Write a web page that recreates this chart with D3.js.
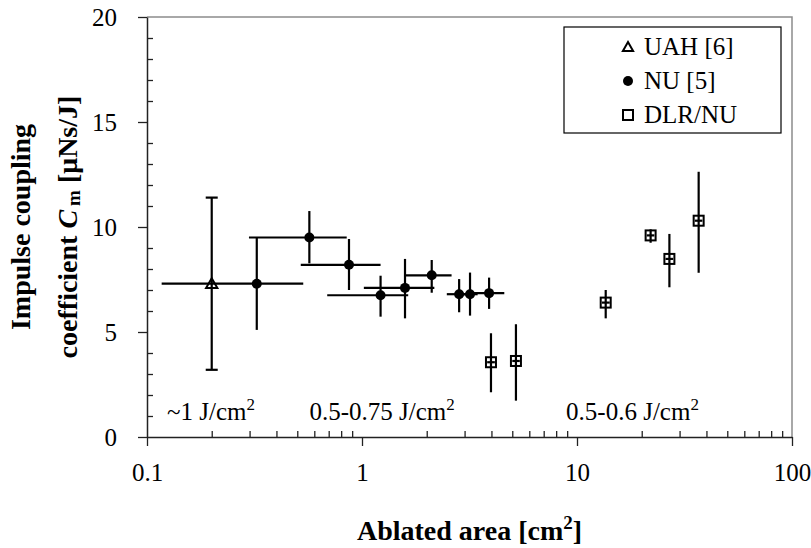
<!DOCTYPE html>
<html>
<head>
<meta charset="utf-8">
<script src="https://cdn.jsdelivr.net/npm/d3@7"></script>
<style>
  body { margin: 0; background: #fff; }
</style>
</head>
<body>
<div id="chart"></div>
<script>
// UAH [6]
let uahX = [0.2];
let uahY = [7.3];
let uahYLo = [3.2];
let uahYHi = [11.4];

// NU [5]
let nuX = [0.324, 0.569, 0.87, 1.22, 1.585, 2.11, 2.83, 3.18, 3.9];
let nuY = [7.3, 9.5, 8.2, 6.75, 7.1, 7.7, 6.8, 6.8, 6.85];
let nuYLo = [5.1, 8.27, 7.0, 5.73, 5.65, 6.87, 5.94, 5.78, 6.1];
let nuYHi = [9.5, 10.76, 9.43, 7.68, 8.48, 8.43, 7.52, 7.83, 7.59];
let nuXLo = [0.117, 0.298, 0.519, 0.689, 1.02, 1.597, 2.48, 2.9, 3.2];
let nuXHi = [0.533, 0.849, 1.22, 1.64, 2.17, 2.61, 3.18, 3.45, 4.59];

// DLR/NU
let dlrX = [3.98, 5.2, 13.6, 22.0, 26.9, 36.8];
let dlrY = [3.56, 3.62, 6.4, 9.6, 8.48, 10.3];
let dlrYLo = [2.13, 1.73, 5.65, 9.25, 7.13, 7.82];
let dlrYHi = [4.94, 5.37, 7.0, 9.89, 9.67, 12.63];
let dlrXLo = [3.82, 5.0, 13.05, 21.1, 25.8, 35.3];
let dlrXHi = [4.15, 5.42, 14.2, 22.9, 28.0, 38.3];

let xTicks = [0.1, 1, 10, 100];
let yTicks = [0, 5, 10, 15, 20];
let legendNames = ["UAH [6]", "NU [5]", "DLR/NU"];
let fluenceLabels = [
	{x: 0.124, text: "~1 J/cm"},
	{x: 0.57, text: "0.5-0.75 J/cm"},
	{x: 8.9, text: "0.5-0.6 J/cm"}
];

let serif = "'Liberation Serif', 'Times New Roman', serif";
let width = 811, height = 548;
let margin = {top: 17, right: 19, bottom: 111, left: 147};

let svg = d3.select("#chart").append("svg")
	.attr("width", width)
	.attr("height", height);

let x = d3.scaleLog().domain([0.1, 100]).range([margin.left, width - margin.right]);
let y = d3.scaleLinear().domain([0, 20]).range([height - margin.bottom, margin.top]);

// frame (top / right)
svg.append("path")
	.attr("d", "M" + x(0.1) + "," + y(20) + "H" + x(100) + "V" + y(0))
	.attr("fill", "none")
	.attr("stroke", "#8c8c8c")
	.attr("stroke-width", 1.5);

// minor ticks
let minorX = [];
[0.1, 1, 10].forEach(function(d) {
	for (let k = 2; k <= 9; k++) minorX.push(d * k);
});
let minorY = d3.range(1, 20).filter(function(d) { return d % 5 !== 0; });

svg.append("g")
	.attr("transform", "translate(0," + y(0) + ")")
	.call(d3.axisBottom(x).tickValues(minorX).tickSizeInner(-6).tickSizeOuter(0).tickFormat(""))
	.call(function(g) { g.select(".domain").remove(); })
	.selectAll("line").attr("stroke", "#222").attr("stroke-width", 1.3);

svg.append("g")
	.attr("transform", "translate(" + x(0.1) + ",0)")
	.call(d3.axisLeft(y).tickValues(minorY).tickSizeInner(-6).tickSizeOuter(0).tickFormat(""))
	.call(function(g) { g.select(".domain").remove(); })
	.selectAll("line").attr("stroke", "#222").attr("stroke-width", 1.3);

// major axes
let xAxis = svg.append("g")
	.attr("transform", "translate(0," + y(0) + ")")
	.call(d3.axisBottom(x).tickValues(xTicks).tickSize(9).tickSizeOuter(0).tickPadding(17).tickFormat(d3.format("~g")));

let yAxis = svg.append("g")
	.attr("transform", "translate(" + x(0.1) + ",0)")
	.call(d3.axisLeft(y).tickValues(yTicks).tickSize(9).tickSizeOuter(0).tickPadding(21));

[xAxis, yAxis].forEach(function(g) {
	g.attr("font-family", null).attr("font-size", null);
	g.select(".domain").attr("stroke", "#222").attr("stroke-width", 1.5);
	g.selectAll(".tick line").attr("stroke", "#222").attr("stroke-width", 1.3);
	g.selectAll(".tick text")
		.style("font-family", serif)
		.style("font-size", "25px")
		.attr("fill", "#000");
});

// fluence labels
fluenceLabels.forEach(function(d) {
	let t = svg.append("text")
		.attr("x", x(d.x))
		.attr("y", 420)
		.style("font-family", serif)
		.style("font-size", "25px")
		.text(d.text);
	t.append("tspan")
		.attr("dy", -10)
		.style("font-size", "17px")
		.text("2");
});

// error bars
let stroke = "#000";
function vBar(xv, lo, hi, cap) {
	svg.append("line")
		.attr("x1", x(xv)).attr("x2", x(xv))
		.attr("y1", y(lo)).attr("y2", y(hi))
		.attr("stroke", stroke).attr("stroke-width", 2.2);
	if (cap) {
		[lo, hi].forEach(function(v) {
			svg.append("line")
				.attr("x1", x(xv) - cap).attr("x2", x(xv) + cap)
				.attr("y1", y(v)).attr("y2", y(v))
				.attr("stroke", stroke).attr("stroke-width", 2.2);
		});
	}
}
function hBar(yv, lo, hi) {
	svg.append("line")
		.attr("x1", x(lo)).attr("x2", x(hi))
		.attr("y1", y(yv)).attr("y2", y(yv))
		.attr("stroke", stroke).attr("stroke-width", 2.2);
}

// markers
let tri = d3.symbol().type(d3.symbolTriangle).size(55);

uahX.forEach(function(d, i) {
	svg.append("path")
		.attr("d", tri)
		.attr("transform", "translate(" + x(d) + "," + (y(uahY[i]) + 1) + ")")
		.attr("fill", "#fff").attr("stroke", "#000").attr("stroke-width", 2);
});

nuX.forEach(function(d, i) {
	svg.append("circle")
		.attr("cx", x(d)).attr("cy", y(nuY[i]))
		.attr("r", 5).attr("fill", "#000");
});

dlrX.forEach(function(d, i) {
	svg.append("rect")
		.attr("x", x(d) - 5).attr("y", y(dlrY[i]) - 5)
		.attr("width", 10).attr("height", 10)
		.attr("fill", "#fff").attr("stroke", "#000").attr("stroke-width", 2);
});

uahX.forEach(function(d, i) { vBar(d, uahYLo[i], uahYHi[i], 6); });
nuX.forEach(function(d, i) {
	vBar(d, nuYLo[i], nuYHi[i], 0);
	hBar(nuY[i], nuXLo[i], nuXHi[i]);
});
dlrX.forEach(function(d, i) {
	vBar(d, dlrYLo[i], dlrYHi[i], 0);
	hBar(dlrY[i], dlrXLo[i], dlrXHi[i]);
});

// legend
let legend = svg.append("g").attr("transform", "translate(564,27)");
legend.append("rect")
	.attr("width", 217).attr("height", 106)
	.attr("fill", "#fff").attr("stroke", "#000").attr("stroke-width", 1.2);

let item = legend.selectAll(".item")
	.data(legendNames)
	.enter().append("g")
	.attr("class", "item")
	.attr("transform", function(d, i) { return "translate(0," + (20 + i * 34) + ")"; });

item.each(function(d, i) {
	let g = d3.select(this);
	if (i === 0) {
		g.append("path").attr("d", d3.symbol().type(d3.symbolTriangle).size(45))
			.attr("transform", "translate(64,1)")
			.attr("fill", "#fff").attr("stroke", "#000").attr("stroke-width", 2);
	} else if (i === 1) {
		g.append("circle").attr("cx", 64).attr("cy", 0).attr("r", 5).attr("fill", "#000");
	} else {
		g.append("rect").attr("x", 59).attr("y", -5).attr("width", 10).attr("height", 10)
			.attr("fill", "#fff").attr("stroke", "#000").attr("stroke-width", 2);
	}
	g.append("text")
		.attr("x", 80).attr("y", 8)
		.style("font-family", serif)
		.style("font-size", "25px")
		.text(d);
});

// axis titles
let xTitle = svg.append("text")
	.attr("x", (x(0.1) + x(100)) / 2)
	.attr("y", 540)
	.attr("text-anchor", "middle")
	.style("font-family", serif)
	.style("font-size", "28px")
	.style("font-weight", "bold")
	.text("Ablated area [cm");
xTitle.append("tspan").attr("dy", -11).style("font-size", "19px").text("2");
xTitle.append("tspan").attr("dy", 11).text("]");

let midY = (y(0) + y(20)) / 2;
svg.append("text")
	.attr("transform", "translate(30," + midY + ") rotate(-90)")
	.attr("text-anchor", "middle")
	.style("font-family", serif)
	.style("font-size", "28px")
	.style("font-weight", "bold")
	.text("Impulse coupling");

let yTitle2 = svg.append("text")
	.attr("transform", "translate(77," + midY + ") rotate(-90)")
	.attr("text-anchor", "middle")
	.style("font-family", serif)
	.style("font-size", "28px")
	.style("font-weight", "bold");
yTitle2.append("tspan").text("coefficient ");
yTitle2.append("tspan").style("font-style", "italic").text("C");
yTitle2.append("tspan").attr("dx", 4).attr("dy", 3).style("font-size", "19px").text("m");
yTitle2.append("tspan").attr("dy", -3).text(" [μNs/J]");
</script>
</body>
</html>
